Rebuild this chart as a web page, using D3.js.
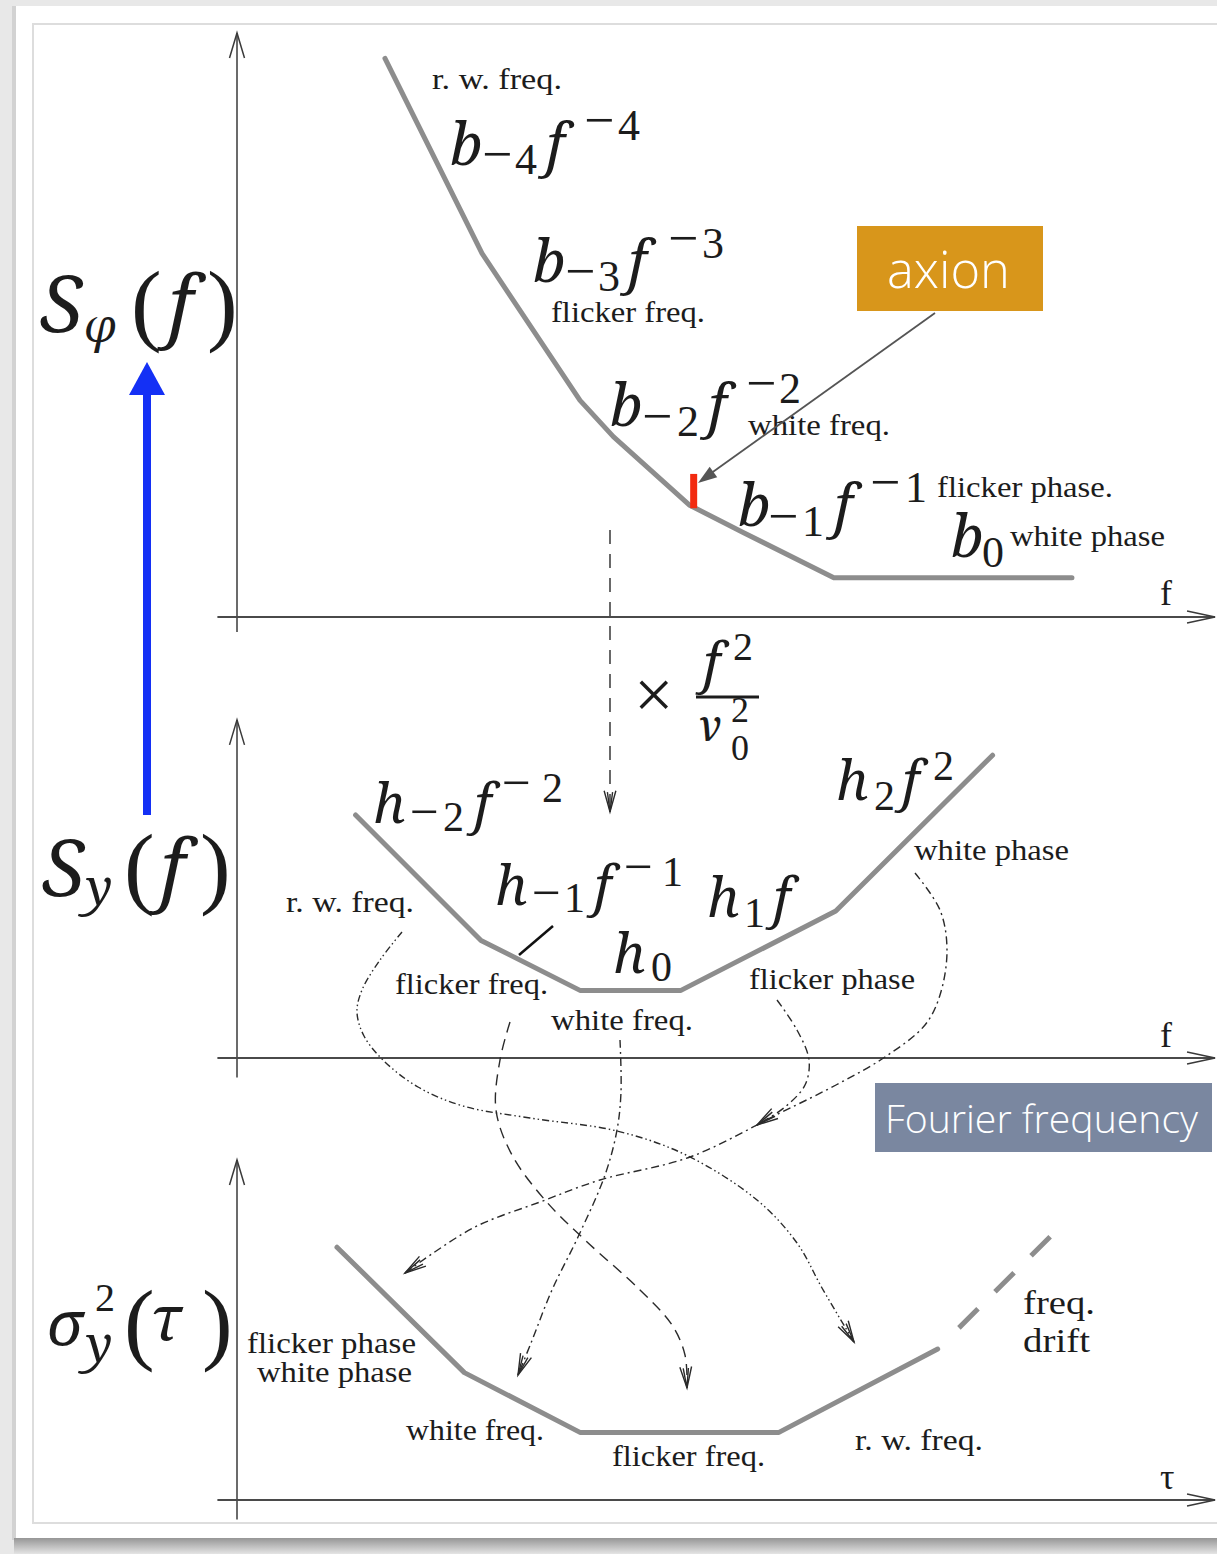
<!DOCTYPE html>
<html>
<head>
<meta charset="utf-8">
<script src="https://cdn.jsdelivr.net/npm/d3@7"></script>
<style>
  html, body { margin: 0; padding: 0; background: #e8e8e8; }
  svg { display: block; }
</style>
</head>
<body>
<svg id="chart" width="1217" height="1554"></svg>
<script>
// ---- Data (log-log schematic units) ----
// Phase-noise spectrum S_phi(f): breakpoints of the power-law segments
const phaseLogF = [1.51, 2.50, 3.50, 3.84, 4.62, 5.17, 6.09, 8.52];
const phaseLogS = [5.70, 3.71, 2.21, 1.84, 1.14, 0.86, 0.40, 0.40];
// Fractional-frequency spectrum S_y(f)
const fracLogF = [1.21, 2.49, 3.50, 4.53, 6.11, 7.71];
const fracLogS = [2.48, 1.20, 0.69, 0.69, 1.50, 3.09];
// Allan variance sigma_y^2(tau)
const allanLogTau = [1.02, 2.32, 3.50, 5.53, 7.15];
const allanLogSigma = [2.58, 1.30, 0.69, 0.69, 1.54];
// Frequency-drift continuation
const driftLogTau = [7.15, 8.31];
const driftLogSigma = [1.54, 2.70];
// Axion marker on the phase-noise curve
const axionLogF = [4.66];
const axionLogS = [1.11, 1.46];

// ---- Scales ----
const x = d3.scaleLinear().domain([0, 10]).range([237, 1217]);
const yTop = d3.scaleLinear().domain([0, 6]).range([617, 29]);
const yMid = d3.scaleLinear().domain([0, 6]).range([1058, 470]);
const yBot = d3.scaleLinear().domain([0, 6]).range([1500, 912]);

const serif = "'Liberation Serif','Times New Roman',serif";
const mathIt = "'Noto Serif','DejaVu Serif',serif";
const sans = "'Open Sans','Lato','Noto Sans',sans-serif";
const ink = "#1c1c1c";
const curveGray = "#8d8d8d";

const svg = d3.select("#chart");
const defs = svg.append("defs");
const shade = defs.append("linearGradient").attr("id", "shade")
  .attr("x1", 0).attr("y1", 0).attr("x2", 0).attr("y2", 1);
shade.append("stop").attr("offset", 0).attr("stop-color", "#969696");
shade.append("stop").attr("offset", 1).attr("stop-color", "#e4e4e4");

// ---- Page card ----
svg.append("rect").attr("width", 1217).attr("height", 1554).attr("fill", "#e8e8e8");
svg.append("rect").attr("x", 12).attr("y", 6).attr("width", 1210).attr("height", 1534).attr("fill", "#d2d2d2");
svg.append("rect").attr("x", 16).attr("y", 6).attr("width", 1210).attr("height", 1532).attr("fill", "#ffffff");
svg.append("rect").attr("x", 14).attr("y", 1538).attr("width", 1210).attr("height", 16).attr("fill", "url(#shade)");
svg.append("rect").attr("x", 33).attr("y", 24).attr("width", 1200).attr("height", 1499)
  .attr("fill", "none").attr("stroke", "#dddddd").attr("stroke-width", 2);

const g = svg.append("g");

// ---- Axes ----
function drawAxes(yS, sMin, sMax) {
  const ax = g.append("g").attr("stroke", "#3a3a3a").attr("fill", "none");
  const y0 = yS(0), top = yS(sMax), bottom = yS(sMin);
  const xl = x(-0.2), xr = x(9.98);
  ax.append("line").attr("x1", x(0)).attr("x2", x(0)).attr("y1", bottom).attr("y2", top).attr("stroke-width", 1.5);
  ax.append("path").attr("stroke-width", 1.5)
    .attr("d", `M${x(0) - 7.5},${top + 25}L${x(0)},${top}L${x(0) + 7.5},${top + 25}`);
  ax.append("line").attr("x1", xl).attr("x2", xr).attr("y1", y0).attr("y2", y0).attr("stroke-width", 2).attr("stroke", "#4a4a4a");
  ax.append("path").attr("stroke-width", 1.6)
    .attr("d", `M${xr - 28},${y0 - 6}L${xr},${y0}L${xr - 28},${y0 + 6}`);
}
drawAxes(yTop, -0.153, 5.96);
drawAxes(yMid, -0.2, 3.45);
drawAxes(yBot, -0.2, 3.47);

// ---- Noise curves ----
function curve(fs, ss, yS, extra) {
  const line = d3.line().x(d => x(d[0])).y(d => yS(d[1]));
  const p = g.append("path").datum(d3.zip(fs, ss)).attr("d", line)
    .attr("fill", "none").attr("stroke", curveGray).attr("stroke-width", 5)
    .attr("stroke-linejoin", "round").attr("stroke-linecap", "round");
  if (extra) extra(p);
  return p;
}
curve(phaseLogF, phaseLogS, yTop);
curve(fracLogF, fracLogS, yMid);
curve(allanLogTau, allanLogSigma, yBot);
curve(driftLogTau, driftLogSigma, yBot, p => p.attr("stroke-linecap", "butt")
  .attr("stroke-dasharray", "0,30,27,24,27,24,27,40"));

// axion marker
g.append("line")
  .attr("x1", x(axionLogF[0])).attr("x2", x(axionLogF[0]))
  .attr("y1", yTop(axionLogS[0])).attr("y2", yTop(axionLogS[1]))
  .attr("stroke", "#f22a10").attr("stroke-width", 7);

// ---- Text helpers ----
function plain(t, px, py, w, size) {
  const el = g.append("text").attr("x", px).attr("y", py).text(t)
    .attr("font-family", serif).attr("font-size", size || 30).attr("fill", ink);
  if (w) el.attr("textLength", w).attr("lengthAdjust", "spacingAndGlyphs");
  return el;
}
// One <text> per formula; each piece is a tspan placed at its own x / baseline.
// Italic pieces are math symbols, upright pieces are digits and delimiters.
// A signed script such as "−4" is split: a wide minus, then the digit ending at x + w.
function formula(parts) {
  const el = g.append("text").attr("font-family", serif).attr("fill", ink);
  parts.forEach(([t, px, py, size, it, w]) => {
    if (t.startsWith("\u2212") && w) {
      el.append("tspan").attr("x", px).attr("y", py - 0.04 * size).text("\u2212")
        .attr("font-size", size * 1.22);
      el.append("tspan").attr("x", px + w - 0.5 * size).attr("y", py).text(t.slice(1))
        .attr("font-size", size);
      return;
    }
    const ts = el.append("tspan").attr("x", px).attr("y", py).text(t).attr("font-size", size);
    if (it) ts.attr("font-family", mathIt).attr("font-style", "italic");
  });
  return el;
}

// ---- Phase-noise panel labels ----
plain("r. w. freq.", 432, 89, 130);
plain("flicker freq.", 551, 322, 154);
plain("white freq.", 748, 435, 142);
plain("flicker phase.", 937, 497, 176);
plain("white phase", 1010, 546, 155);
plain("f", 1160, 605, null, 36);

formula([["b", 450, 165, 58, true], ["\u22124", 482, 174, 44, false, 55],
         ["f", 546, 165, 58, true], ["\u22124", 584, 140, 44, false, 56]]);
formula([["b", 533, 282, 58, true], ["\u22123", 565, 291, 44, false, 55],
         ["f", 628, 282, 58, true], ["\u22123", 668, 258, 44, false, 56]]);
formula([["b", 610, 426, 58, true], ["\u22122", 642, 436, 44, false, 57],
         ["f", 708, 426, 58, true], ["\u22122", 746, 403, 44, false, 55]]);
formula([["b", 738, 526, 58, true], ["\u22121", 768, 536, 44, false, 56],
         ["f", 834, 526, 58, true], ["\u22121", 870, 502, 44, false, 57]]);
formula([["b", 951, 557, 58, true], ["0", 982, 567, 44, false]]);

// axion call-out
g.append("rect").attr("x", 857).attr("y", 226).attr("width", 186).attr("height", 85).attr("fill", "#d8961b");
g.append("text").attr("x", 887).attr("y", 288).text("axion")
  .attr("font-family", sans).attr("font-weight", 300).attr("font-size", 52)
  .attr("fill", "#ffffff").attr("textLength", 123).attr("lengthAdjust", "spacingAndGlyphs");
g.append("line").attr("x1", 935).attr("y1", 313).attr("x2", 710).attr("y2", 474)
  .attr("stroke", "#555555").attr("stroke-width", 1.8);
g.append("path").attr("fill", "#555555")
  .attr("d", (() => {
    const tx = 698, ty = 483, ang = Math.atan2(483 - 313, 698 - 935);
    const L = 19, W = 6.5;
    const bx = tx - L * Math.cos(ang), by = ty - L * Math.sin(ang);
    const nx = -Math.sin(ang) * W, ny = Math.cos(ang) * W;
    return `M${tx},${ty}L${bx + nx},${by + ny}L${bx - nx},${by - ny}Z`;
  })());

// ---- Axis titles ----
formula([["S", 40, 332, 78, true], ["\u03C6", 84, 342, 46, true],
         ["(", 131, 334, 92, false], ["f", 168, 332, 78, true], [")", 207, 334, 92, false]]);
formula([["S", 42, 896, 78, true], ["y", 86, 905, 50, true],
         ["(", 124, 897, 92, false], ["f", 160, 896, 78, true], [")", 200, 897, 92, false]]);
formula([["\u03C3", 47, 1345, 62, true], ["2", 95, 1311, 40, false], ["y", 86, 1362, 50, true],
         ["(", 124, 1353, 92, false], ["\u03C4", 150, 1340, 62, true], [")", 202, 1353, 92, false]]);

// blue conversion arrow
g.append("line").attr("x1", 147).attr("x2", 147).attr("y1", 815).attr("y2", 392)
  .attr("stroke", "#1430f5").attr("stroke-width", 8);
g.append("path").attr("fill", "#1430f5").attr("d", "M129,395L165,395L147,362Z");

// ---- Conversion factor f^2 / nu0^2 ----
formula([["\u00D7", 634, 718, 70, false],
         ["f", 703, 682, 54, true], ["2", 733, 660, 40, false],
         ["\u03BD", 697, 741, 44, true], ["2", 731, 722, 36, false], ["0", 731, 760, 36, false]]);
g.append("line").attr("x1", 696).attr("x2", 759).attr("y1", 697).attr("y2", 697)
  .attr("stroke", ink).attr("stroke-width", 3);

// ---- Fractional-frequency panel labels ----
formula([["h", 373, 823, 54, true], ["\u22122", 410, 831, 42, false, 54],
         ["f", 474, 823, 54, true], ["\u22122", 502, 802, 42, false, 61]]);
formula([["h", 495, 905, 54, true], ["\u22121", 532, 912, 42, false, 53],
         ["f", 594, 905, 54, true], ["\u22121", 624, 886, 42, false, 59]]);
formula([["h", 707, 917, 54, true], ["1", 744, 927, 42, false], ["f", 773, 917, 54, true]]);
formula([["h", 613, 973, 54, true], ["0", 651, 981, 42, false]]);
formula([["h", 836, 800, 54, true], ["2", 874, 810, 42, false],
         ["f", 902, 800, 54, true], ["2", 933, 780, 42, false]]);
plain("r. w. freq.", 286, 912, 128);
plain("flicker freq.", 395, 994, 153);
plain("white freq.", 551, 1030, 142);
plain("flicker phase", 749, 989, 166);
plain("white phase", 914, 860, 155);
plain("f", 1160, 1047, null, 36);

// small pointer to the flicker-frequency segment
g.append("line").attr("x1", 519).attr("y1", 955).attr("x2", 553).attr("y2", 926)
  .attr("stroke", "#111").attr("stroke-width", 2.5);

// Fourier frequency tag
g.append("rect").attr("x", 875).attr("y", 1083).attr("width", 337).attr("height", 69).attr("fill", "#7a87a0");
g.append("text").attr("x", 885).attr("y", 1133).text("Fourier frequency")
  .attr("font-family", sans).attr("font-weight", 300).attr("font-size", 38)
  .attr("fill", "#ffffff").attr("textLength", 313).attr("lengthAdjust", "spacingAndGlyphs");

// ---- Allan variance panel labels ----
plain("flicker phase", 247, 1353, 169);
plain("white phase", 257, 1382, 155);
plain("white freq.", 406, 1440, 138);
plain("flicker freq.", 612, 1466, 153);
plain("r. w. freq.", 855, 1450, 128);
plain("freq.", 1023, 1314, 72, 34);
plain("drift", 1023, 1352, 67, 34);
plain("\u03C4", 1160, 1489, null, 36);

// ---- Mapping arrows between the representations ----
const guide = d3.line().curve(d3.curveCatmullRom.alpha(0.5));
function chevron(tip, from, len, spread) {
  const ang = Math.atan2(tip[1] - from[1], tip[0] - from[0]);
  const a1 = ang + Math.PI - spread, a2 = ang + Math.PI + spread;
  return `M${tip[0] + len * Math.cos(a1)},${tip[1] + len * Math.sin(a1)}L${tip[0]},${tip[1]}L${tip[0] + len * Math.cos(a2)},${tip[1] + len * Math.sin(a2)}`;
}
function guideArrow(pts, dash) {
  const ga = g.append("g").attr("fill", "none").attr("stroke", "#2a2a2a").attr("stroke-width", 1.4);
  ga.append("path").attr("d", guide(pts)).attr("stroke-dasharray", dash);
  const tip = pts[pts.length - 1], from = pts[pts.length - 2];
  ga.append("path").attr("d", chevron(tip, from, 22, 0.27));
  ga.append("path").attr("d", chevron(tip, from, 20, 0.13));
}
// S_phi -> S_y
guideArrow([[610, 530], [610, 812]], "14 10");

// S_y regimes -> sigma_y regimes
guideArrow([[402, 932], [380, 960], [362, 990], [357, 1012], [364, 1036], [384, 1061], [418, 1087],
            [463, 1106], [530, 1118], [617, 1131], [686, 1155], [757, 1200], [797, 1243],
            [822, 1288], [854, 1342]], "7 3 1.5 3 1.5 3");
guideArrow([[510, 1022], [500, 1060], [496, 1110], [512, 1155], [545, 1200], [585, 1240],
            [640, 1290], [672, 1325], [685, 1355], [687, 1388]], "11 7");
guideArrow([[620, 1040], [621, 1092], [617, 1130], [605, 1175], [578, 1237], [552, 1290],
            [531, 1343], [518, 1375]], "8 4 2 4");
guideArrow([[777, 1000], [797, 1030], [809, 1060], [805, 1085], [785, 1107], [757, 1125]], "8 4 2 4");
guideArrow([[915, 873], [940, 910], [947, 950], [940, 995], [925, 1025], [885, 1057], [836, 1085],
            [780, 1113], [690, 1157], [600, 1180], [540, 1202], [473, 1228], [405, 1273]], "8 4 2 4");
</script>
</body>
</html>
